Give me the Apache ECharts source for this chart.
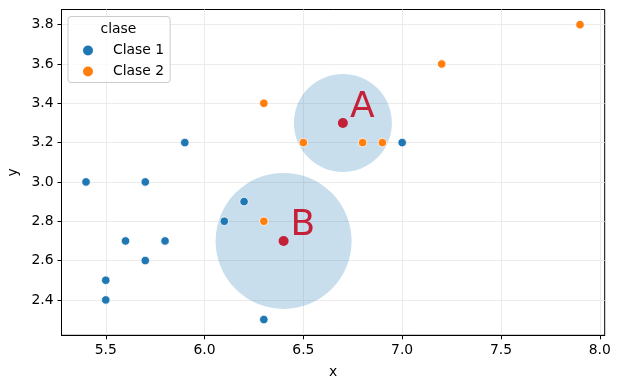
<!DOCTYPE html>
<html>
<head>
<meta charset="utf-8">
<script src="https://cdn.jsdelivr.net/npm/echarts@6/dist/echarts.min.js"></script>
<style>html,body{margin:0;padding:0;background:#fff}#c{width:620px;height:388px}</style>
</head>
<body>
<div id="c"></div>
<script>
// Data
const clase1 = [[5.4,3.0],[5.7,3.0],[5.9,3.2],[6.1,2.8],[6.2,2.9],[5.6,2.7],[5.8,2.7],[5.7,2.6],[5.5,2.5],[5.5,2.4],[6.3,2.3],[7.0,3.2]];
const clase2 = [[6.3,3.4],[6.5,3.2],[6.8,3.2],[6.9,3.2],[7.2,3.6],[7.9,3.8],[6.3,2.8]];
const centroids = [[6.7,3.3],[6.4,2.7]];
const centroidNames = ['A','B'];
const xTicks = [5.5,6.0,6.5,7.0,7.5,8.0];
const yTicks = [2.4,2.6,2.8,3.0,3.2,3.4,3.6,3.8];
const xRange = [5.276, 8.025];
const yRange = [2.220, 3.877];

const font = 'DejaVu Sans';
const chart = echarts.init(document.getElementById('c'), null, {renderer:'canvas'});
const axisCommon = {
  axisLine:{show:true,onZero:false,lineStyle:{color:'#000',width:1}},
  axisTick:{show:true,inside:false,length:4,lineStyle:{color:'#000',width:1}},
  splitLine:{show:true,lineStyle:{color:'#ebebeb',width:1}},
  nameTextStyle:{color:'#000',fontFamily:font,fontSize:13.9},
};
chart.setOption({
  animation:false,
  backgroundColor:'#fff',
  grid:{left:61.5,right:15.3,top:9.5,bottom:52.7,show:true,borderColor:'#000',borderWidth:1,backgroundColor:'transparent',containLabel:false,outerBoundsMode:'none'},
  xAxis:Object.assign({}, axisCommon, {
    type:'value', min:xRange[0], max:xRange[1], name:'x', nameLocation:'middle', nameGap:30,
    axisTick:Object.assign({}, axisCommon.axisTick, {customValues:xTicks}),
    axisLabel:{customValues:xTicks, margin:8, color:'#000', fontFamily:font, fontSize:13.9, formatter:v=>v.toFixed(1)},
    splitLine:Object.assign({}, axisCommon.splitLine, {customValues:xTicks}),
  }),
  yAxis:Object.assign({}, axisCommon, {
    type:'value', min:yRange[0], max:yRange[1], name:'y', nameLocation:'middle', nameGap:39,
    axisTick:Object.assign({}, axisCommon.axisTick, {customValues:yTicks}),
    axisLabel:{customValues:yTicks, margin:8, color:'#000', fontFamily:font, fontSize:13.9, formatter:v=>v.toFixed(1)},
    splitLine:Object.assign({}, axisCommon.splitLine, {customValues:yTicks}),
  }),
  legend:{
    left:68, top:16.5, orient:'vertical',
    data:['Clase 1','Clase 2'],
    itemWidth:10, itemHeight:10, itemGap:7, icon:'circle',
    padding:[27,6,4,15],
    backgroundColor:'rgba(255,255,255,0.8)', borderColor:'#cccccc', borderWidth:1, borderRadius:3,
    textStyle:{color:'#000',fontFamily:font,fontSize:13.9,padding:[0,0,0,15]},
    itemStyle:{borderWidth:0},
  },
  graphic:[{type:'text', x:118.5, y:29.5, z:100, style:{text:'clase', fill:'#000', font:'13.9px "DejaVu Sans"', textAlign:'center', textVerticalAlign:'middle'}}],
  series:[
    {type:'scatter', name:'circleA', data:[centroids[0]], symbolSize:98, itemStyle:{color:'rgba(31,119,180,0.3)'}, z:1, silent:true},
    {type:'scatter', name:'circleB', data:[centroids[1]], symbolSize:136, itemStyle:{color:'rgba(31,119,180,0.3)'}, z:1, silent:true},
    {type:'scatter', name:'Clase 1', data:clase1, symbolSize:8.5, itemStyle:{color:'#1f77b4', borderColor:'#fff', borderWidth:0.8, opacity:1}, z:3},
    {type:'scatter', name:'Clase 2', data:clase2, symbolSize:8.5, itemStyle:{color:'#ff7f0e', borderColor:'#fff', borderWidth:0.8, opacity:1}, z:3},
    {type:'scatter', name:'centroids', data:centroids.map((c,i)=>({value:c, name:centroidNames[i]})), symbolSize:10,
     itemStyle:{color:'#c42139', opacity:1}, z:4,
     label:{show:true, position:'right', distance:2, offset:[0,-15], formatter:p=>p.name, color:'#c42139', fontFamily:font, fontSize:36}},
  ]
});
</script>
</body>
</html>
